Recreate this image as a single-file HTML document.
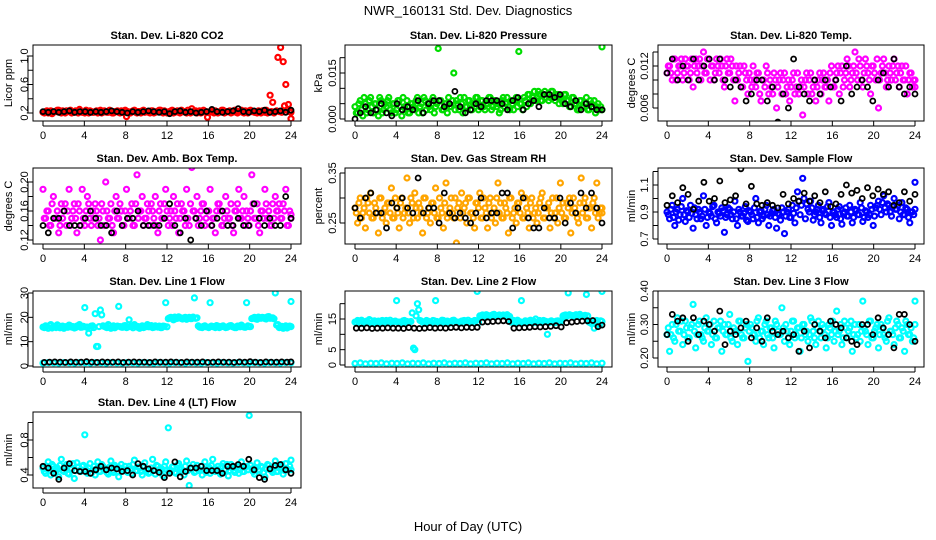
<!DOCTYPE html>
<html><head><meta charset="utf-8"><style>
html,body{margin:0;padding:0;background:#fff}
svg{display:block}
text{font-family:"Liberation Sans",Arial,sans-serif;fill:#000}
</style></head><body>
<svg id="chart" width="936" height="540" viewBox="0 0 936 540" xmlns="http://www.w3.org/2000/svg">
<text x="468" y="15" text-anchor="middle" font-size="13">NWR_160131 Std. Dev. Diagnostics</text>
<text x="468" y="531" text-anchor="middle" font-size="13">Hour of Day (UTC)</text>
</svg>
<script>
const xTicks=[0,4,8,12,16,20,24];
const co2Red=[.21,.22,.20,.23,.21,.22,.24,.20,.21,.23,.22,.20,.21,.22,.25,.21,.20,.22,.23,.21,.22,.20,.24,.21,.22,.21,.23,.20,.22,.21,.23,.22,.15,.21,.22,.24,.20,.22,.23,.21,.22,.20,.23,.21,.22,.24,.20,.22,.21,.23,.20,.22,.21,.24,.22,.20,.21,.26,.22,.20,.23,.21,.22,.14,.22,.21,.23,.20,.22,.24,.21,.22,.20,.23,.21,.22,.24,.20,.21,.23,.22,.21,.20,.22,.23,.21,.20,.45,.35,.22,.98,1.12,.92,.60,.32,.12];
const co2Red2=[.20,.23,.21,.19,.22,.24,.21,.23,.20,.22,.24,.21,.23,.20,.22,.21,.24,.20,.22,.21,.23,.22,.20,.23,.21,.24,.20,.22,.23,.20,.21,.24,.22,.20,.23,.21,.22,.20,.24,.22,.21,.23,.20,.22,.24,.21,.23,.20,.22,.24,.21,.23,.20,.22,.21,.24,.20,.22,.23,.21,.20,.24,.22,.21,.23,.20,.22,.21,.24,.20,.22,.23,.21,.24,.20,.22,.21,.23,.20,.24,.22,.21,.23,.20,.22,.24,.21,.22,.20,.23,.22,.21,.30,.24,.22,.21];
const co2Black=[.22,.21,.22,.21,.22,.23,.21,.22,.22,.21,.22,.21,.22,.23,.22,.21,.20,.22,.21,.22,.23,.22,.21,.22,.19,.22,.23,.21,.22,.20,.21,.22,.25,.22,.21,.22,.23,.26,.22,.21,.23,.22,.24,.21,.22,.23,.21,.24];
const presGreen=[.004,.002,.006,.001,.005,.003,.007,.002,.005,.001,.006,.003,.004,.007,.002,.005,.003,.006,.001,.004,.006,.002,.005,.003,.007,.004,.002,.006,.005,.003,.007,.004,.023,.006,.003,.005,.007,.004,.015,.006,.003,.005,.007,.004,.006,.003,.005,.007,.004,.006,.003,.005,.007,.004,.006,.005,.003,.007,.005,.004,.006,.003,.007,.022,.005,.007,.004,.008,.006,.009,.007,.008,.006,.009,.008,.007,.009,.006,.008,.007,.005,.008,.006,.004,.007,.005,.003,.006,.004,.007,.003,.005,.006,.004,.003,.0235];
const presGreen2=[.002,.005,.003,.007,.002,.006,.004,.005,.003,.007,.002,.005,.006,.003,.005,.002,.006,.004,.007,.003,.002,.005,.004,.006,.002,.005,.007,.003,.004,.006,.002,.005,.006,.003,.005,.002,.004,.006,.003,.005,.007,.002,.004,.006,.003,.005,.007,.003,.006,.004,.005,.007,.003,.006,.004,.002,.006,.004,.007,.003,.005,.006,.004,.005,.003,.006,.008,.005,.007,.006,.009,.006,.008,.007,.006,.009,.007,.008,.005,.006,.008,.006,.004,.007,.005,.003,.006,.004,.005,.003,.006,.004,.002,.005,.004,.003];
const presBlack=[.000,.002,.004,.002,.003,.005,.002,.001,.005,.003,.004,.003,.006,.002,.005,.006,.006,.004,.005,.009,.004,.002,.003,.005,.004,.006,.006,.006,.005,.003,.006,.007,.003,.005,.006,.004,.008,.008,.007,.008,.005,.004,.006,.003,.005,.004,.003,.003];
const tempMag=[.011,.012,.010,.013,.011,.012,.010,.013,.012,.011,.009,.013,.012,.010,.014,.011,.013,.012,.010,.013,.011,.012,.009,.013,.011,.012,.007,.010,.012,.009,.011,.008,.010,.012,.009,.011,.007,.010,.012,.008,.009,.011,.006,.010,.008,.011,.009,.007,.010,.008,.011,.009,.005,.010,.008,.011,.009,.007,.010,.008,.011,.009,.007,.012,.009,.011,.008,.012,.010,.013,.009,.011,.014,.010,.012,.009,.013,.011,.008,.012,.010,.006,.011,.013,.009,.012,.010,.013,.011,.009,.012,.010,.008,.011,.009,.010];
const tempMag2=[.012,.011,.013,.010,.012,.013,.011,.012,.010,.013,.012,.011,.013,.012,.011,.013,.010,.012,.011,.012,.013,.010,.012,.011,.013,.010,.012,.011,.009,.012,.010,.011,.009,.010,.011,.008,.010,.009,.011,.010,.008,.010,.009,.011,.010,.008,.010,.009,.011,.009,.008,.010,.009,.011,.010,.008,.010,.009,.011,.010,.009,.010,.011,.009,.010,.012,.011,.009,.011,.012,.010,.012,.011,.013,.010,.011,.012,.010,.012,.011,.013,.010,.012,.011,.010,.011,.012,.010,.012,.011,.010,.012,.010,.011,.010,.009];
const tempBlack=[.011,.013,.010,.012,.010,.013,.010,.012,.013,.010,.013,.010,.009,.010,.009,.007,.008,.010,.010,.007,.009,.004,.008,.006,.013,.009,.008,.007,.010,.008,.010,.009,.010,.007,.012,.008,.009,.010,.009,.007,.010,.011,.009,.013,.009,.008,.009,.008];
const boxMag=[.19,.15,.16,.14,.18,.15,.13,.17,.16,.14,.19,.15,.17,.13,.16,.19,.14,.18,.15,.16,.17,.14,.12,.16,.20,.15,.17,.13,.18,.15,.16,.14,.19,.15,.17,.14,.21,.16,.18,.15,.17,.14,.16,.18,.13,.17,.15,.19,.14,.16,.18,.15,.13,.17,.16,.19,.14,.22,.16,.18,.15,.17,.14,.16,.19,.15,.13,.17,.16,.14,.18,.15,.17,.13,.16,.19,.15,.18,.16,.14,.21,.15,.17,.13,.16,.19,.15,.14,.17,.18,.16,.15,.17,.19,.14,.155];
const boxMag2=[.15,.16,.14,.17,.15,.16,.14,.15,.17,.16,.14,.16,.15,.17,.14,.15,.16,.17,.14,.15,.16,.15,.17,.14,.16,.15,.14,.16,.15,.17,.14,.16,.15,.16,.14,.17,.15,.16,.14,.15,.16,.17,.15,.14,.16,.15,.17,.16,.15,.14,.16,.17,.15,.16,.14,.15,.17,.16,.15,.14,.16,.17,.15,.16,.14,.15,.16,.17,.14,.15,.16,.15,.14,.16,.17,.15,.16,.14,.15,.16,.17,.15,.14,.16,.15,.17,.16,.14,.15,.16,.17,.15,.16,.14,.16,.15];
const boxBlack=[.14,.13,.15,.15,.16,.14,.14,.14,.15,.16,.15,.14,.14,.13,.16,.14,.15,.15,.16,.14,.14,.14,.14,.15,.17,.14,.13,.15,.12,.15,.14,.16,.14,.15,.16,.14,.14,.15,.14,.14,.17,.15,.14,.15,.14,.14,.18,.15];
const rhOrange=[.28,.25,.30,.27,.24,.29,.31,.26,.28,.23,.30,.27,.25,.29,.32,.26,.28,.24,.30,.27,.34,.25,.29,.31,.26,.28,.23,.30,.27,.25,.29,.32,.26,.28,.24,.33,.27,.30,.26,.21,.29,.31,.28,.25,.30,.27,.24,.29,.31,.26,.28,.24,.30,.27,.25,.33,.29,.26,.28,.23,.30,.27,.25,.29,.31,.26,.28,.24,.30,.27,.25,.29,.31,.26,.28,.24,.30,.27,.25,.33,.29,.26,.28,.23,.30,.27,.25,.34,.29,.26,.28,.24,.30,.33,.27,.28];
const rhOrange2=[.27,.29,.26,.28,.30,.27,.26,.29,.27,.30,.26,.28,.29,.27,.26,.30,.27,.29,.26,.28,.27,.30,.26,.28,.29,.27,.30,.26,.28,.29,.27,.26,.30,.27,.29,.26,.28,.27,.30,.28,.26,.27,.29,.30,.27,.26,.29,.28,.26,.30,.27,.29,.26,.28,.30,.27,.26,.29,.27,.30,.26,.28,.29,.27,.26,.30,.27,.29,.26,.28,.27,.30,.26,.28,.29,.27,.26,.30,.28,.27,.26,.29,.30,.27,.28,.26,.29,.27,.30,.26,.28,.29,.27,.26,.28,.27];
const rhBlack=[.28,.26,.30,.31,.27,.27,.24,.29,.28,.30,.28,.27,.34,.27,.28,.28,.25,.31,.27,.26,.27,.26,.25,.27,.30,.26,.27,.27,.31,.31,.24,.28,.30,.26,.24,.24,.28,.26,.26,.30,.25,.29,.27,.31,.28,.31,.28,.25];
const flowBlue=[.90,.85,.95,.80,.92,.88,1.00,.83,.90,.95,.78,.88,.92,.85,1.02,.80,.90,.87,.95,.82,.89,.93,.75,.88,.92,.85,.98,.80,.90,.87,.94,.83,.90,.85,1.00,.82,.91,.87,.95,.80,.89,.92,.78,.88,.93,.74,.90,.86,.95,.82,1.05,.88,1.15,.85,.92,.98,.84,.90,.95,.82,.92,.88,.97,.80,.90,.86,.94,.81,.90,.87,.95,.82,.92,.88,.97,.83,.91,.86,.95,.80,.93,.98,.88,1.02,.90,.95,.87,1.00,.92,.85,.97,.88,.92,.82,.90,1.12];
const flowBlue2=[.88,.92,.86,.90,.84,.94,.88,.91,.86,.89,.93,.85,.90,.87,.92,.86,.89,.94,.85,.90,.87,.91,.86,.93,.88,.90,.85,.92,.87,.89,.84,.91,.88,.93,.86,.90,.85,.92,.88,.87,.91,.86,.89,.84,.90,.87,.92,.86,.89,.93,.98,.95,1.00,.96,.90,.93,.88,.92,.86,.91,.89,.94,.86,.90,.88,.92,.85,.89,.93,.87,.90,.86,.91,.88,.93,.86,.90,.88,.92,.87,.95,.92,.97,.93,.96,.90,.94,.92,.95,.90,.88,.93,.86,.90,.88,.92];
const flowBlack=[.95,1.02,.97,1.08,1.03,.92,.98,1.12,.98,1.00,1.13,.97,.99,1.02,1.22,.96,1.09,.96,.95,.97,.95,.93,1.03,.96,1.00,.98,1.04,.98,1.02,.97,1.05,.94,.96,1.03,1.10,1.04,1.06,1.00,1.08,1.02,1.07,1.03,1.05,.95,.97,1.05,.98,1.03];
const line1Cyan=[16,16.5,15.5,17,16,15.8,16.5,16,15.5,16.2,16.8,16,15.6,16.4,17,16,24,16,15.5,16.5,21.5,8,23,16.5,16,17,15.5,16.5,16.2,24.5,16,16.5,15.8,19,16.4,17,16,15.5,16.5,16,17,16.2,15.8,16.5,16,15.8,16.4,26,19.5,20,19,19.5,20.2,19.5,19.8,19.2,20,19.5,28,19.8,16,15.8,16.5,16,26,16.2,15.8,16.4,16,16.5,15.8,16.2,16.6,16,15.8,16.4,16.8,16,26,16.2,19.5,20,19.2,19.8,20,19.5,20.2,19.6,19.8,30,17,16,15.5,16.5,16,26.5];
const line1Cyan2=[15.8,16.2,16.6,15.6,16.3,16.9,15.7,16.4,16.1,15.9,16.5,16.2,15.8,16.6,15.9,16.3,16,13.5,16.4,15.8,8,16.2,21,16.3,15.8,16.5,16.1,15.7,16.4,16.2,15.9,16.6,16,16.3,15.7,16.5,16.2,16,15.8,16.4,16.1,16.6,15.9,16.2,16.4,15.8,16.3,16.1,19.8,19.4,20.1,19.6,19.9,19.3,20,19.7,19.5,20.1,19.6,16.5,15.9,16.3,16.1,15.8,16.4,16.2,16.6,15.8,16.3,16.1,15.9,16.5,16.2,15.8,16.4,16.1,16.3,15.9,16.5,16.2,19.7,19.4,20.1,19.6,19.9,19.3,20.3,19.7,19.4,16.8,15.8,16.3,16.1,15.6,16.4,16.2];
const line1Low=[1.2,1.4,1.3,1.2,1.4,1.3,1.2,1.4,1.3,1.2,1.4,1.3,1.2,1.4,1.3,1.2,1.4,1.3,1.2,1.4,1.3,1.2,1.4,1.3,1.2,1.4,1.3,1.2,1.4,1.3,1.2,1.4,1.3,1.2,1.4,1.3,1.2,1.4,1.3,1.2,1.4,1.3,1.2,1.4,1.3,1.2,1.4,1.3];
const line1Black=[1.5,1.6,1.7,1.6,1.5,1.7,1.6,1.6,1.8,1.6,1.5,1.7,1.6,1.6,1.7,1.5,1.6,1.7,1.6,1.6,1.5,1.7,1.6,1.6,1.7,1.6,1.5,1.7,1.6,1.6,1.7,1.5,1.6,1.7,1.6,1.6,1.5,1.7,1.6,1.8,1.6,1.5,1.7,1.6,1.6,1.7,1.6,1.7];
const line2Cyan=[14,14.5,13.5,14.2,14,13.8,14.5,14,13.6,14.3,14,13.8,14.5,14,13.5,14.2,21,14,13.8,14.5,14.2,14,17,5,20,14.5,14,13.6,14.3,14,14.5,21,14,13.8,14.5,14,13.5,14.2,14.6,14,13.8,14.3,14.5,14,13.9,14.2,14.5,24,16,16.3,15.8,16.2,16,16.4,15.8,16.1,16,16.3,15.9,16,14,14.5,13.8,14.2,21,14,13.6,14.4,14,14.2,13.8,14.5,14,14.3,10,14.2,14,13.8,14.4,14,16,16.3,23.5,16.2,16,16.4,15.8,16.1,16,23,14,13.5,12,14.5,13,24];
const line2Cyan2=[13.8,14.2,14.6,13.6,14.3,14.8,13.7,14.4,14.1,13.9,14.5,14.2,13.8,14.6,13.9,14.3,14,13.5,14.4,13.8,14,14.2,5.5,16,18,14.3,13.8,14.5,14.1,13.7,14.4,14.2,13.9,14.6,14,14.3,13.7,14.5,14.2,14,13.8,14.4,14.1,14.6,13.9,14.2,14.4,13.8,15.8,16.2,16.4,15.9,16.1,16.5,15.8,16.3,16.1,15.9,16.4,15.8,14.3,13.9,14.6,14.1,13.8,14.4,14.2,14.6,13.8,15,14.1,13.9,14.5,14.2,13.8,14.4,14.1,14.3,13.9,14.5,16.2,15.9,16.4,16.1,15.8,16.3,16.5,15.9,16.2,16,13.8,14.3,14.1,13.6,14.4,14.2];
const line2Low=[.5,.7,.4,.6,.5,.7,.4,.6,.5,.7,.4,.6,.5,.7,.4,.6,.5,.7,.4,.6,.5,.7,.4,.6,.5,.7,.4,.6,.5,.7,.4,.6,.5,.7,.4,.6,.5,.7,.4,.6,.5,.7,.4,.6,.5,.7,.4,.6];
const line2Black=[12,12,12.1,11.9,12,12,12.1,12,12,11.9,12.2,12,11.9,12,12.2,12,12.1,12,12.2,12.3,12.1,12.3,12.2,12.3,14,14.1,14.2,14.3,14.4,14.2,12,12.1,12.2,12.3,12.5,12.4,12.5,12.6,12.8,12.4,13.8,14,14.2,14.3,14.4,14.5,12.5,13];
const line3Cyan=[.27,.22,.30,.25,.32,.28,.24,.31,.26,.29,.36,.23,.30,.27,.25,.32,.28,.24,.31,.26,.29,.22,.30,.27,.33,.25,.28,.24,.31,.26,.29,.19,.30,.27,.25,.32,.28,.24,.31,.26,.29,.23,.30,.27,.35,.25,.28,.24,.31,.26,.29,.22,.30,.27,.25,.32,.28,.24,.31,.26,.29,.23,.30,.27,.25,.34,.28,.24,.31,.26,.29,.22,.30,.27,.25,.37,.28,.24,.31,.26,.29,.23,.30,.27,.25,.32,.28,.24,.31,.26,.29,.22,.30,.27,.25,.37];
const line3Cyan2=[.29,.27,.26,.30,.28,.31,.27,.29,.26,.30,.28,.27,.31,.26,.29,.28,.30,.27,.26,.29,.31,.28,.27,.30,.26,.29,.28,.31,.27,.26,.30,.28,.29,.27,.31,.26,.28,.30,.27,.29,.26,.31,.28,.27,.29,.30,.26,.28,.31,.27,.29,.26,.30,.28,.27,.31,.26,.29,.28,.30,.27,.26,.29,.31,.28,.27,.30,.26,.29,.28,.31,.27,.26,.30,.28,.29,.27,.31,.26,.28,.30,.27,.29,.26,.31,.28,.27,.29,.30,.26,.28,.31,.27,.29,.26,.30];
const line3Black=[.27,.33,.31,.32,.25,.32,.27,.31,.30,.28,.34,.24,.28,.27,.29,.31,.26,.29,.25,.32,.28,.27,.28,.26,.27,.22,.28,.23,.30,.28,.26,.31,.30,.29,.26,.25,.24,.30,.30,.27,.32,.29,.27,.23,.33,.33,.30,.25];
const line4Cyan=[.48,.42,.55,.40,.50,.45,.38,.58,.44,.52,.41,.47,.36,.54,.45,.50,.86,.42,.53,.46,.40,.55,.44,.50,.47,.41,.56,.43,.49,.38,.52,.46,.44,.50,.42,.57,.45,.48,.40,.54,.46,.43,.58,.41,.50,.45,.39,.55,.94,.44,.50,.42,.53,.47,.40,.56,.28,.48,.43,.51,.45,.40,.55,.47,.42,.58,.44,.50,.41,.53,.46,.39,.52,.45,.48,.42,.55,.44,.50,1.08,.47,.41,.54,.45,.49,.38,.52,.46,.43,.56,.44,.50,.41,.53,.46,.57];
const line4Cyan2=[.44,.50,.46,.52,.43,.48,.51,.45,.49,.42,.47,.53,.45,.49,.44,.51,.46,.48,.42,.50,.47,.44,.52,.46,.43,.49,.45,.51,.44,.48,.46,.50,.43,.47,.52,.45,.49,.44,.50,.46,.42,.48,.45,.51,.44,.47,.50,.46,.45,.49,.43,.51,.46,.44,.50,.45,.48,.52,.44,.47,.50,.46,.43,.49,.51,.45,.47,.44,.50,.46,.52,.45,.48,.43,.50,.46,.44,.49,.46,.51,.44,.48,.46,.50,.43,.47,.51,.45,.49,.44,.48,.52,.45,.47,.50,.46];
const line4Black=[.50,.48,.42,.35,.48,.53,.45,.44,.44,.42,.46,.50,.46,.48,.47,.44,.45,.40,.53,.50,.47,.45,.43,.37,.42,.55,.38,.44,.48,.48,.50,.45,.45,.45,.42,.50,.50,.52,.50,.58,.46,.37,.35,.47,.51,.52,.46,.42];
const titles=["Stan. Dev. Li-820 CO2","Stan. Dev. Li-820 Pressure","Stan. Dev. Li-820 Temp.","Stan. Dev. Amb. Box Temp.","Stan. Dev. Gas Stream RH","Stan. Dev. Sample Flow","Stan. Dev. Line 1 Flow","Stan. Dev. Line 2 Flow","Stan. Dev. Line 3 Flow","Stan. Dev. Line 4 (LT) Flow"];
const yLabels=["Licor ppm","kPa","degrees C","degrees C","percent","ml/min","ml/min","ml/min","ml/min","ml/min"];
const yTicks=[[0.2,0.4,0.6,0.8,1.0],[0,0.005,0.010,0.015,0.020],[0.006,0.008,0.010,0.012,0.014],[0.12,0.14,0.16,0.18,0.20],[0.25,0.30,0.35],[0.7,0.8,0.9,1.0,1.1,1.2],[0,10,20,30],[0,5,10,15,20],[0.20,0.25,0.30,0.35,0.40],[0.4,0.6,0.8,1.0]];
const yTickLabels=[["0.2","","0.6","","1.0"],["0.000","","","0.015",""],["0.006","","","0.012",""],["0.12","","0.16","","0.20"],["0.25","","0.35"],["0.7","","0.9","","1.1",""],["0","10","20","30"],["0","5","","15",""],["0.20","","0.30","","0.40"],["0.4","","0.8",""]];
const yDomains=[[0.2,1.0,113,56],[0,0.015,119,73],[0.006,0.012,108,66],[0.12,0.20,240,182],[0.25,0.35,223,173],[0.7,1.1,239,185],[0,30,366,293],[0,15,365,319],[0.20,0.40,358,291],[0.4,0.8,475,440]];
const seriesList=[[[co2Red,"#ff0000"],[co2Red2,"#ff0000"],[co2Black,"#000"]],[[presGreen,"#00dd00"],[presGreen2,"#00dd00"],[presBlack,"#000"]],[[tempMag,"#ff00ff"],[tempMag2,"#ff00ff"],[tempBlack,"#000"]],[[boxMag,"#ff00ff"],[boxMag2,"#ff00ff"],[boxBlack,"#000"]],[[rhOrange,"#ffa500"],[rhOrange2,"#ffa500"],[rhBlack,"#000"]],[[flowBlue,"#0000ff"],[flowBlue2,"#0000ff"],[flowBlack,"#000"]],[[line1Cyan,"#00ffff"],[line1Cyan2,"#00ffff"],[line1Low,"#00ffff"],[line1Black,"#000"]],[[line2Cyan,"#00ffff"],[line2Cyan2,"#00ffff"],[line2Low,"#00ffff"],[line2Black,"#000"]],[[line3Cyan,"#00ffff"],[line3Cyan2,"#00ffff"],[line3Black,"#000"]],[[line4Cyan,"#00ffff"],[line4Cyan2,"#00ffff"],[line4Black,"#000"]]];
const NS="http://www.w3.org/2000/svg";
const svg=document.getElementById('chart');
const cols=[{bl:33,br:301,x0:43,x24:291,lab:8,tick:24},{bl:345,br:612,x0:355,x24:602,lab:318,tick:332},{bl:658,br:924,x0:667,x24:915,lab:631,tick:644}];
const rows=[45,168,291,412];
function mk(tag,attrs,parent){const e=document.createElementNS(NS,tag);for(const k in attrs)e.setAttribute(k,attrs[k]);(parent||svg).appendChild(e);return e;}
titles.forEach((title,p)=>{
  const c=cols[p%3],top=rows[Math.floor(p/3)],bot=top+76;
  const g=mk('g',{});
  
  
  const [v0,v1,p0,p1]=yDomains[p];
  const ys=v=>p0+(v-v0)*(p1-p0)/(v1-v0);
  const xs=h=>c.x0+h*(c.x24-c.x0)/24;
  const clip=mk('clipPath',{id:'clip'+p},g);
  mk('rect',{x:c.bl,y:top,width:c.br-c.bl,height:bot-top},clip);
  const pts=mk('g',{'clip-path':'url(#clip'+p+')'},g);
  
  
  seriesList[p].forEach(([arr,col],si)=>{
    const n=arr.length;
    const off=(si%2===1)?0.125:0;
    arr.forEach((v,i)=>{
      const h=Math.min(24,i*24/(n-1)+off);
      const ci=mk('circle',{cx:xs(h).toFixed(1),cy:ys(v).toFixed(1),r:2.5,fill:'none',stroke:col,'stroke-width':col==="#000"?1.8:2.2},pts);
      
      
    });
  });
  const box=mk('rect',{x:c.bl,y:top,width:c.br-c.bl,height:bot-top,fill:'none',stroke:'#000','stroke-width':1},g);
  
  
  const t=mk('text',{x:(c.bl+c.br)/2,y:top-6,'text-anchor':'middle','font-size':11,'font-weight':'bold'},g);
  t.textContent=title;
  
  
  xTicks.forEach(h=>{
    const x=xs(h);
    mk('line',{x1:x,x2:x,y1:bot,y2:bot+5,stroke:'#000'},g);
    const tl=mk('text',{x:x,y:bot+18,'text-anchor':'middle','font-size':11},g);
    tl.textContent=h;
    
    
  });
  mk('line',{x1:xs(0),x2:xs(24),y1:bot+5,y2:bot+5,stroke:'#000'},g);
  const yt=yTicks[p];
  yt.forEach((v,i)=>{
    const y=ys(v);
    mk('line',{x1:c.bl-5,x2:c.bl,y1:y,y2:y,stroke:'#000'},g);
    if(yTickLabels[p][i]){
      const tl=mk('text',{x:c.tick,y:y,'text-anchor':'middle','font-size':11,transform:`rotate(-90 ${c.tick} ${y})`,dy:'0.35em'},g);
      tl.textContent=yTickLabels[p][i];
      
      
    }
  });
  mk('line',{x1:c.bl-5,x2:c.bl-5,y1:ys(yt[0]),y2:ys(yt[yt.length-1]),stroke:'#000'},g);
  const my=(top+bot)/2;
  const yl=mk('text',{x:c.lab,y:my,'text-anchor':'middle','font-size':11,transform:`rotate(-90 ${c.lab} ${my})`,dy:'0.35em'},g);
  yl.textContent=yLabels[p];
  
  
});
</script>
</body></html>
